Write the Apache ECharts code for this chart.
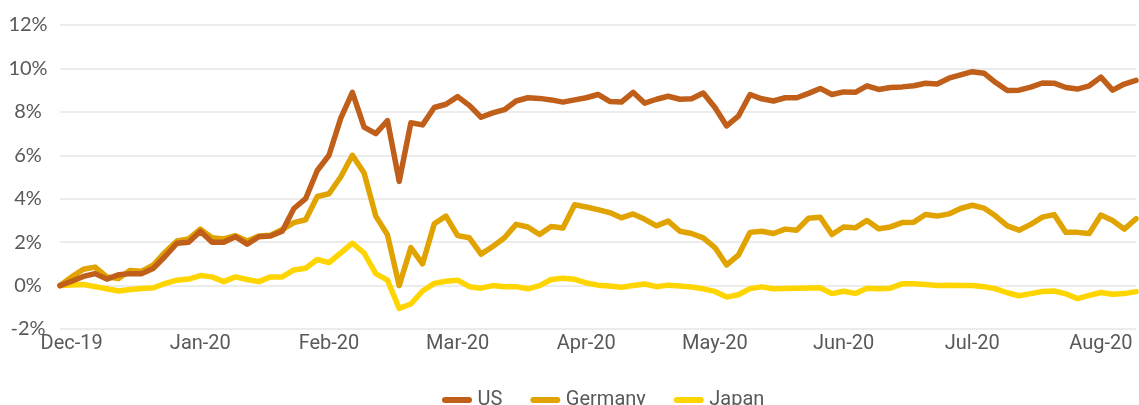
<!DOCTYPE html>
<html>
  <head>
    <meta charset="UTF-8" />
    <title>US, Germany, Japan</title>
    <script type="text/javascript" src="https://cdn.jsdelivr.net/npm/echarts@6/dist/echarts.min.js"></script>
    <style>
      html, body { margin: 0; padding: 0; background: #fff; }
    </style>
  </head>

  <body>
    <div id="chart" style="height: 405px; width: 1139px"></div>
    <script>
      // month labels, one every 11 points (first label sits on point 1)
      var monthLabels = ["Dec-19", "Jan-20", "Feb-20", "Mar-20", "Apr-20", "May-20", "Jun-20", "Jul-20", "Aug-20"];
      var pointsPerMonth = 11;

      // cumulative change, %
      var us = [0, 0.2, 0.42, 0.55, 0.3, 0.5, 0.55, 0.55, 0.8, 1.35,
        1.95, 2.0, 2.5, 2.0, 2.0, 2.25, 1.9, 2.25, 2.28, 2.5,
        3.55, 4.0, 5.3, 6.0, 7.7, 8.9, 7.3, 7.0, 7.6, 4.8,
        7.5, 7.4, 8.2, 8.35, 8.7, 8.3, 7.75, 7.95, 8.1, 8.5,
        8.65, 8.62, 8.55, 8.45, 8.55, 8.65, 8.8, 8.48, 8.45, 8.9,
        8.4, 8.58, 8.72, 8.58, 8.6, 8.87, 8.2, 7.35, 7.8, 8.8,
        8.6, 8.5, 8.65, 8.65, 8.85, 9.08, 8.8, 8.92, 8.9, 9.2,
        9.03, 9.12, 9.15, 9.2, 9.32, 9.28, 9.55, 9.7, 9.85, 9.78,
        9.35, 8.98, 9.0, 9.14, 9.33, 9.32, 9.12, 9.05, 9.2, 9.6,
        9.0, 9.28, 9.45];
      var germany = [0, 0.4, 0.75, 0.85, 0.4, 0.32, 0.7, 0.66, 0.95, 1.55,
        2.05, 2.15, 2.6, 2.2, 2.15, 2.3, 2.05, 2.28, 2.32, 2.58,
        2.9, 3.03, 4.1, 4.23, 5.0, 6.0, 5.18, 3.2, 2.34, 0.0,
        1.75, 1.0, 2.85, 3.2, 2.3, 2.2, 1.45, 1.8, 2.2, 2.82,
        2.7, 2.35, 2.72, 2.65, 3.72, 3.62, 3.5, 3.36, 3.12, 3.3,
        3.05, 2.75, 2.97, 2.5, 2.4, 2.2, 1.75, 0.95, 1.4, 2.45,
        2.5, 2.4, 2.6, 2.55, 3.1, 3.15, 2.35, 2.7, 2.66, 3.0,
        2.62, 2.7, 2.9, 2.92, 3.27, 3.2, 3.3, 3.55, 3.7, 3.57,
        3.2, 2.75, 2.55, 2.82, 3.15, 3.27, 2.45, 2.45, 2.4, 3.25,
        3.0, 2.6, 3.08];
      var japan = [0, 0.03, 0.05, -0.05, -0.15, -0.25, -0.18, -0.13, -0.1, 0.1,
        0.25, 0.3, 0.46, 0.4, 0.18, 0.4, 0.28, 0.18, 0.4, 0.4,
        0.72, 0.8, 1.2, 1.06, 1.5, 1.95, 1.5, 0.55, 0.25, -1.05,
        -0.85, -0.25, 0.1, 0.2, 0.25, -0.05, -0.12, 0.0, -0.05, -0.05,
        -0.15, 0.0, 0.28, 0.34, 0.29, 0.12, 0.02, -0.02, -0.08, 0.0,
        0.07, -0.05, 0.02, -0.02, -0.07, -0.15, -0.27, -0.53, -0.42, -0.14,
        -0.06, -0.15, -0.13, -0.12, -0.11, -0.1, -0.37, -0.26, -0.36, -0.12,
        -0.15, -0.12, 0.08, 0.08, 0.05, 0.0, 0.02, 0.0, 0.0, -0.05,
        -0.15, -0.33, -0.47, -0.37, -0.27, -0.25, -0.38, -0.6, -0.45, -0.32,
        -0.4, -0.37, -0.28];

      var names = ["US", "Germany", "Japan"];
      var colors = ["#C05F1A", "#E0A300", "#FFD500"];

      // category per point; month name only where a label goes
      var cats = [];
      for (var i = 0; i < us.length; i++) {
        var m = (i - 1) / pointsPerMonth;
        cats.push(m === Math.floor(m) && monthLabels[m] ? monthLabels[m] : "p" + i);
      }

      var textColor = "#595959";
      var pill = "path://M3,0 L27,0 A3,3 0 0 1 27,6 L3,6 A3,3 0 0 1 3,0 Z";

      var series = [us, germany, japan].map(function (vals, n) {
        return {
          name: names[n],
          type: "line",
          data: vals,
          showSymbol: false,
          symbol: "none",
          lineStyle: { width: 5.5, color: colors[n], join: "round", cap: "round" },
          itemStyle: { color: colors[n] },
          z: 10 - n,
        };
      });
      // keep US drawn on top of Germany where they touch
      series[0].z = 12;

      var option = {
        backgroundColor: "#fff",
        animation: false,
        grid: { left: 60, right: 0, top: 25, bottom: 76 },
        legend: {
          top: 385,
          left: 437,
          icon: pill,
          itemWidth: 31,
          itemHeight: 6,
          itemGap: 28,
          data: names,
          textStyle: { color: textColor, fontSize: 20, fontFamily: "Roboto" },
        },
        xAxis: {
          type: "category",
          data: cats,
          boundaryGap: false,
          axisLine: { show: false },
          axisTick: { show: false },
          splitLine: { show: false },
          axisLabel: {
            interval: 0,
            margin: 5,
            color: textColor,
            fontSize: 20,
            fontFamily: "Roboto",
            formatter: function (v) {
              return v.charAt(0) === "p" ? "" : v;
            },
          },
        },
        yAxis: {
          type: "value",
          min: -2,
          max: 12,
          interval: 2,
          axisLine: { show: false },
          axisTick: { show: false },
          splitLine: { lineStyle: { color: "#E6E6E6", width: 1.5 } },
          axisLabel: {
            formatter: "{value}%",
            align: "center",
            margin: 32,
            padding: [0, 0, 6, 0],
            color: textColor,
            fontSize: 20,
            fontFamily: "Lato",
          },
        },
        series: series,
      };

      var myChart = echarts.init(document.getElementById("chart"));
      myChart.setOption(option);
    </script>
  </body>
</html>
